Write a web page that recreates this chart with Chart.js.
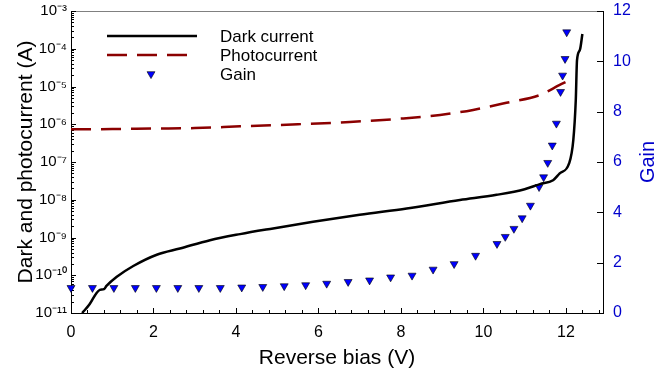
<!DOCTYPE html>
<html><head><meta charset="utf-8">
<script src="https://cdn.jsdelivr.net/npm/chart.js@4.4.1/dist/chart.umd.min.js"></script>
<style>html,body{margin:0;padding:0;background:#fff;overflow:hidden}#wrap{width:669px;height:376px}</style>
</head><body><div id="wrap"><canvas id="c" width="669" height="376"></canvas></div>
<script>
// ---- data ----
const darkBias    = [0.27, 0.45, 0.62, 0.70, 0.80, 0.86, 1.11, 1.51, 2.08, 2.64, 3.37, 4.10, 4.90, 5.87, 7.00, 8.14, 9.43, 10.32, 11.00, 11.37, 11.69, 11.85, 12.08, 12.18, 12.24, 12.27, 12.34, 12.40];
const darkCurrent = [1.0e-11, 1.7e-11, 3.4e-11, 4.1e-11, 4.3e-11, 5.2e-11, 9.1e-11, 1.76e-10, 3.5e-10, 5.1e-10, 8.5e-10, 1.23e-9, 1.74e-9, 2.6e-9, 4.0e-9, 5.9e-9, 9.8e-9, 1.35e-8, 1.9e-8, 2.6e-8, 3.3e-8, 5.0e-8, 9.3e-8, 3.8e-7, 4.4e-6, 5.0e-5, 9.3e-5, 2.45e-4];
const photoBias    = [0, 1, 2, 3, 4.1, 5.5, 6.76, 8.0, 8.95, 9.75, 10.56, 11.37, 11.85, 12.02];
const photoCurrent = [7.35e-7, 7.45e-7, 7.7e-7, 7.9e-7, 8.8e-7, 1.0e-6, 1.15e-6, 1.41e-6, 1.76e-6, 2.4e-6, 3.7e-6, 5.96e-6, 1.1e-5, 1.35e-5];
const gainBias   = [0, 0.52, 1.04, 1.56, 2.07, 2.59, 3.10, 3.62, 4.14, 4.65, 5.17, 5.69, 6.20, 6.72, 7.24, 7.75, 8.27, 8.78, 9.29, 9.81, 10.33, 10.53, 10.74, 10.94, 11.14, 11.35, 11.46, 11.56, 11.67, 11.77, 11.87, 11.92, 11.98, 12.02];
const gainValues = [1.0, 1.0, 1.0, 1.0, 1.0, 1.0, 1.0, 1.0, 1.02, 1.04, 1.07, 1.11, 1.17, 1.24, 1.30, 1.42, 1.49, 1.73, 1.95, 2.28, 2.75, 3.03, 3.35, 3.77, 4.27, 5.01, 5.40, 5.97, 6.66, 7.53, 8.79, 9.44, 10.1, 11.16];
const xTickValues     = [0, 2, 4, 6, 8, 10, 12];
const leftTickValues  = [1e-11, 1e-10, 1e-9, 1e-8, 1e-7, 1e-6, 1e-5, 1e-4, 1e-3];
const rightTickValues = [0, 2, 4, 6, 8, 10, 12];
const seriesLabels = ['Dark current', 'Photocurrent', 'Gain'];
const axisTitles = {x: 'Reverse bias (V)', left: 'Dark and photocurrent (A)', right: 'Gain'};

const FONT = "'Liberation Sans', Arial, sans-serif";
const BLUE = '#0000cc';
Chart.defaults.font.family = FONT;
Chart.defaults.color = '#000';

const sup = {'-':'\u207B','0':'\u2070','1':'\u00B9','2':'\u00B2','3':'\u00B3','4':'\u2074','5':'\u2075','6':'\u2076','7':'\u2077','8':'\u2078','9':'\u2079'};
function powLabel(v){ const e = Math.round(Math.log10(v)); return '10' + String(e).split('').map(c=>sup[c]).join(''); }

const pts = (xs, ys) => xs.map((x,i)=>({x, y: ys[i]}));

const frame = {
  id: 'frame',
  beforeDatasetsDraw(chart){
    const {ctx, chartArea:a, scales:{x, y, y2}} = chart;
    ctx.save();
    ctx.lineWidth = 1;
    ctx.strokeStyle = '#808080';
    ctx.beginPath(); ctx.moveTo(a.left, a.top + 0.5); ctx.lineTo(a.right, a.top + 0.5); ctx.stroke();
    ctx.strokeStyle = '#000';
    ctx.beginPath();
    for (let i = 0; i <= 32; i++) {
      const px = Math.round(x.getPixelForValue(i * 0.4)) + 0.5;
      if (px > a.right) break;
      const len = i % 5 === 0 ? 5 : 3;
      ctx.moveTo(px, a.bottom); ctx.lineTo(px, a.bottom - len);
    }
    for (let e = -11; e <= -3; e++) {
      for (let m = 1; m <= 9; m++) {
        if (e === -3 && m > 1) break;
        const py = Math.round(y.getPixelForValue(m * Math.pow(10, e))) + 0.5;
        const len = m === 1 ? 5 : 3;
        ctx.moveTo(a.left, py); ctx.lineTo(a.left + len, py);
      }
    }
    rightTickValues.forEach(v => {
      const py = Math.round(y2.getPixelForValue(v)) + 0.5;
      ctx.moveTo(a.right, py); ctx.lineTo(a.right - 6, py);
    });
    ctx.stroke();
    ctx.restore();
  },
  afterDraw(chart){
    const {ctx, chartArea:a} = chart;
    const ds = chart.data.datasets;
    ctx.save();
    // legend
    const lx0 = 107, lx1 = 197, tx = 220, rows = [36, 55, 74];
    ctx.lineWidth = ds[0].borderWidth; ctx.strokeStyle = ds[0].borderColor;
    ctx.beginPath(); ctx.moveTo(lx0, rows[0]); ctx.lineTo(lx1, rows[0]); ctx.stroke();
    ctx.lineWidth = ds[1].borderWidth; ctx.strokeStyle = ds[1].borderColor; ctx.setLineDash(ds[1].borderDash);
    ctx.beginPath(); ctx.moveTo(lx0, rows[1]); ctx.lineTo(lx1, rows[1]); ctx.stroke();
    ctx.setLineDash([]);
    ctx.fillStyle = ds[2].backgroundColor; ctx.strokeStyle = ds[2].borderColor; ctx.lineWidth = ds[2].borderWidth;
    Chart.helpers.drawPoint(ctx, {pointStyle:'triangle', rotation:180, radius: ds[2].pointRadius, borderWidth: ds[2].borderWidth}, 151, rows[2]);
    ctx.font = '17px ' + FONT; ctx.fillStyle = '#000'; ctx.textBaseline = 'middle'; ctx.textAlign = 'left';
    ds.forEach((d, i) => ctx.fillText(d.label, tx, rows[i] + 1));
    // right axis title (reads bottom-to-top like the reference)
    ctx.translate(648, (a.top + a.bottom) / 2);
    ctx.rotate(-Math.PI / 2);
    ctx.font = '20px ' + FONT; ctx.fillStyle = BLUE; ctx.textAlign = 'center'; ctx.textBaseline = 'middle';
    ctx.fillText(axisTitles.right, 0, 0);
    ctx.restore();
  }
};

new Chart(document.getElementById('c'), {
  type: 'line',
  data: {
    datasets: [
      {label: seriesLabels[0], data: pts(darkBias, darkCurrent), yAxisID: 'y', borderColor: '#000', borderWidth: 2.5, pointRadius: 0, fill: false, cubicInterpolationMode: 'monotone'},
      {label: seriesLabels[1], data: pts(photoBias, photoCurrent), yAxisID: 'y', borderColor: '#8b0000', borderWidth: 2.5, borderDash: [20, 10], pointRadius: 0, fill: false, cubicInterpolationMode: 'monotone'},
      {label: seriesLabels[2], data: pts(gainBias, gainValues), yAxisID: 'y2', showLine: false, pointStyle: 'triangle', rotation: 180, pointRadius: 4.6, backgroundColor: '#0000ff', borderColor: '#000', borderWidth: 0.6, clip: false}
    ]
  },
  options: {
    responsive: false, animation: false, events: [],
    layout: {padding: {top: 11, left: 0, right: 0, bottom: 0}},
    plugins: {legend: {display: false}, tooltip: {enabled: false}},
    scales: {
      x: {
        type: 'linear', position: 'bottom', min: 0, max: 12.9,
        grid: {display: false, drawTicks: true, tickLength: 10},
        border: {display: true, color: '#000', width: 1},
        afterBuildTicks: s => { s.ticks = xTickValues.map(v => ({value: v})); },
        afterFit: s => { s.height = 63; },
        ticks: {font: {size: 16}, color: '#000', padding: 0, maxRotation: 0},
        title: {display: true, text: axisTitles.x, font: {size: 21}, color: '#000', padding: {top: 0, bottom: 5}}
      },
      y: {
        type: 'logarithmic', position: 'left', min: 1e-11, max: 1e-3,
        grid: {display: false, drawTicks: true, tickLength: 4},
        border: {display: true, color: '#000', width: 1},
        afterBuildTicks: s => { s.ticks = leftTickValues.map(v => ({value: v, major: true})); },
        afterFit: s => { s.width = 71; },
        ticks: {font: {size: 15}, color: '#000', padding: 0, callback: v => powLabel(v)},
        title: {display: true, text: axisTitles.left, font: {size: 21}, color: '#000', padding: {top: 14, bottom: 0}}
      },
      y2: {
        type: 'linear', position: 'right', min: 0, max: 12,
        grid: {display: false, drawTicks: true, tickLength: 10},
        border: {display: true, color: '#000', width: 1},
        afterBuildTicks: s => { s.ticks = rightTickValues.map(v => ({value: v})); },
        afterFit: s => { s.width = 66; },
        ticks: {font: {size: 16}, color: BLUE, padding: 0}
      }
    }
  },
  plugins: [frame]
});
</script>
</body></html>
